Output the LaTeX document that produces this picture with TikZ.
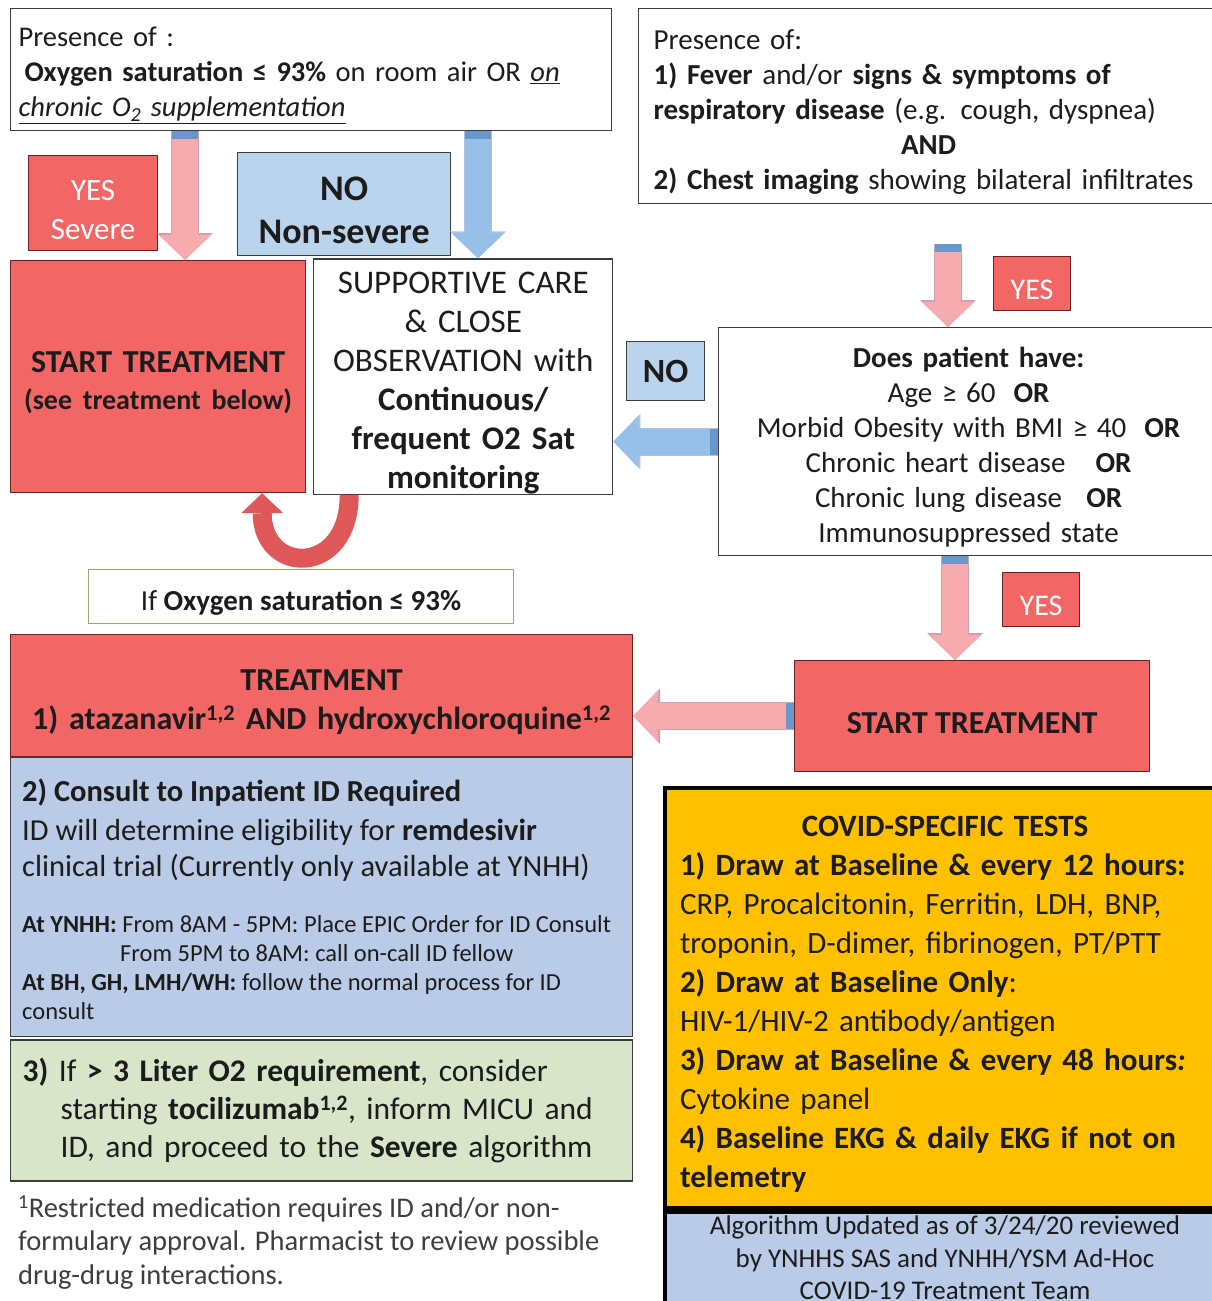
\documentclass[tikz,border=0pt]{standalone}
\usepackage{fontspec}
\setmainfont{Carlito}
\usetikzlibrary{arrows.meta, positioning}

\definecolor{ink}{RGB}{28,28,28}
\definecolor{frame}{RGB}{60,60,60}
\definecolor{redfill}{RGB}{242,102,102}
\definecolor{redline}{RGB}{110,35,35}
\definecolor{nofill}{RGB}{187,212,237}
\definecolor{consultfill}{RGB}{185,203,230}
\definecolor{greenfill}{RGB}{216,229,201}
\definecolor{greenline}{RGB}{150,170,110}
\definecolor{goldfill}{RGB}{255,192,0}
\definecolor{arrpink}{RGB}{246,172,174}
\definecolor{pinkedge}{RGB}{205,160,178}
\definecolor{arrblue}{RGB}{150,192,232}
\definecolor{blueedge}{RGB}{170,195,225}
\definecolor{capblue}{RGB}{105,150,205}
\definecolor{uturn}{RGB}{222,88,90}

\newcommand{\fsz}[2]{\fontsize{#1}{#2}\selectfont}

\begin{document}
\begin{tikzpicture}[
    x = 1pt, y = -1pt, % one unit is one pixel, y runs down the page
    > = {Triangle[length=25pt, width=52pt, line width=0pt]}, % block arrow head
    flowbox/.style = {draw=frame, line width=1.2pt, anchor=north west,
      inner xsep=8pt, inner ysep=0pt, text=ink, align=center},
    lifted/.style = {execute at begin node={\rule{0pt}{\dimexpr0.75em+10pt\relax}}},
    redbox/.style = {flowbox, lifted, fill=redfill, draw=redline},
    nobox/.style = {flowbox, fill=nofill},
    yesbox/.style = {redbox, text=white, font=\fsz{30}{39},
      minimum width=77, minimum height=54},
    edged/.style = {preaction={draw=#1, line width=28pt,
      -{Triangle[length=27pt, width=56pt, line width=0pt]}}},
    pinkarrow/.style = {->, line width=26pt, draw=arrpink, edged=pinkedge},
    bluearrow/.style = {->, line width=26pt, draw=arrblue, edged=blueedge},
    bluecap/.style = {line width=26pt, draw=capblue},
    uturnarrow/.style = {-{Triangle[length=20pt, width=42pt, line width=0pt]},
      line width=19pt, draw=uturn},
  ]
  \useasboundingbox (0,0) rectangle (1211,1301);

  % left question: oxygen saturation
  \node[flowbox, lifted, minimum width=601, minimum height=122, text width=585,
    align=left, font=\fsz{28.5}{35}] (sat) at (10,8)
    {Presence of :\\
     \hspace*{6pt}\textbf{Oxygen saturation ≤ 93\%} on room air OR \underline{\textit{on}}\\
     \underline{\textit{chronic O\textsubscript{2} supplementation}}};

  % right question: symptoms and imaging
  \node[flowbox, lifted, minimum width=580, minimum height=195, text width=550,
    inner xsep=15pt, align=left, font=\fsz{29}{35}] (fever) at (638,8)
    {Presence of:\\
     \textbf{1) Fever} and/or \textbf{signs \& symptoms of}\\
     \textbf{respiratory disease} (e.g. cough, dyspnea)\\
     \makebox[550pt]{\textbf{AND}}\\
     \textbf{2) Chest imaging} showing bilateral infiltrates};

  \node[yesbox, minimum width=129, minimum height=95, text width=113,
    font=\fsz{31}{39}] (yessev) at (28,155) {YES\\Severe};
  \node[nobox, lifted, minimum width=213, minimum height=103, text width=197,
    font=\bfseries\fsz{36}{43}] (nonsev) at (237,152) {NO\\Non-severe};

  \node[redbox, minimum width=295, minimum height=232, text width=279,
    font=\bfseries\fsz{32}{37}] (severe) at (10,260)
    {START TREATMENT\\{\fsz{28}{37}(see treatment below)}};
  \node[flowbox, lifted, minimum width=299, minimum height=232, text width=283,
    font=\fsz{33}{39}, right=7pt of severe] (support)
    {SUPPORTIVE CARE\\\& CLOSE\\OBSERVATION with\\\textbf{Continuous/}\\
     \textbf{frequent O2 Sat}\\\textbf{monitoring}};

  \node[flowbox, lifted, draw=greenline, minimum width=425, minimum height=54,
    font=\fsz{29}{34}] (ifsat) at (88,569) {If \textbf{Oxygen saturation ≤ 93\%}};

  % risk factors
  \node[yesbox] (yes1) at (993,256) {YES};
  \node[flowbox, lifted, minimum width=500, minimum height=228, text width=484,
    font=\fsz{29}{35}] (risk) at (718,327)
    {\textbf{Does patient have:}\\
     Age ≥ 60\hspace{18pt}\textbf{OR}\\
     Morbid Obesity with BMI ≥ 40\hspace{18pt}\textbf{OR}\\
     Chronic heart disease\hspace{30pt}\textbf{OR}\\
     Chronic lung disease\hspace{24pt}\textbf{OR}\\
     Immunosuppressed state};
  \node[nobox, minimum width=78, minimum height=59, font=\bfseries\fsz{34}{40}] (norisk) at (626,341) {NO};
  \node[yesbox] (yes2) at (1002,572) {YES};
  \node[redbox, minimum width=355, minimum height=111, font=\bfseries\fsz{32}{39}] (starttr) at (794,660) {START TREATMENT};

  % treatment column
  \node[redbox, minimum width=622, minimum height=122, text width=606,
    font=\bfseries\fsz{32}{39}] (treat) at (10,634)
    {TREATMENT\\1) atazanavir\textsuperscript{1,2} AND hydroxychloroquine\textsuperscript{1,2}};
  \node[flowbox, fill=consultfill, minimum width=622, minimum height=279,
    below=0pt of treat] (consult) {};
  \node[anchor=north west, inner sep=0pt, text=ink, font=\bfseries\fsz{30.5}{37}] (consulthead)
    at ([shift={(12,21)}]consult.north west) {2) Consult to Inpatient ID Required};
  \node[anchor=north west, inner sep=0pt, text=ink, align=left, font=\fsz{30.5}{36}] (consulttxt)
    at ([shift={(12,62)}]consult.north west)
    {ID will determine eligibility for \textbf{remdesivir}\\
     clinical trial (Currently only available at YNHH)};
  \node[anchor=north west, inner sep=0pt, text=ink, align=left, font=\fsz{24.5}{29}] (consultwhere)
    at ([shift={(12,158)}]consult.north west)
    {\textbf{At YNHH:} From 8AM - 5PM: Place EPIC Order for ID Consult\\
     \hspace*{98pt}From 5PM to 8AM: call on-call ID fellow\\
     \textbf{At BH, GH, LMH/WH:} follow the normal process for ID\\
     consult};
  \node[flowbox, fill=greenfill, minimum width=622, minimum height=141, text width=598,
    inner xsep=12pt, align=left, font=\fsz{31.5}{38}, below=2pt of consult] (o2req)
    {\textbf{3)} If \textbf{> 3 Liter O2 requirement}, consider\\
     \hspace*{38pt}starting \textbf{tocilizumab\textsuperscript{1,2}}, inform MICU and\\
     \hspace*{38pt}ID, and proceed to the \textbf{Severe} algorithm};
  \node[anchor=north west, inner sep=0pt, text=ink!85, align=left, font=\fsz{28.5}{33.5}] (notes)
    at (18,1195)
    {\textsuperscript{1}Restricted medication requires ID and/or non-\\
     formulary approval. Pharmacist to review possible\\
     drug-drug interactions.};

  % tests
  \node[flowbox, lifted, draw=black, line width=4pt, fill=goldfill, minimum width=560,
    minimum height=420, text width=530, inner xsep=15pt, align=left,
    font=\fsz{31}{39}] (tests) at (663,786)
    {\makebox[530pt]{\textbf{COVID-SPECIFIC TESTS}}\\
     \textbf{1) Draw at Baseline \& every 12 hours:}\\
     CRP, Procalcitonin, Ferritin, LDH, BNP,\\
     troponin, D-dimer, fibrinogen, PT/PTT\\
     \textbf{2) Draw at Baseline Only}:\\
     HIV-1/HIV-2 antibody/antigen\\
     \textbf{3) Draw at Baseline \& every 48 hours\textit{:}}\\
     Cytokine panel\\
     \textbf{4) Baseline EKG \& daily EKG if not on}\\
     \textbf{telemetry}};
  \node[flowbox, draw=black, line width=4pt, fill=consultfill, minimum width=560,
    minimum height=100, below=0pt of tests] (team) {};
  \node[anchor=north, inner sep=0pt, text=ink, align=center, font=\fsz{27}{32.5}] (teamtxt)
    at ([shift={(0,6)}]team.north)
    {Algorithm Updated as of 3/24/20 reviewed\\
     by YNHHS SAS and YNHH/YSM Ad-Hoc\\
     COVID-19 Treatment Team};

  % block arrows
  \coordinate (sevtop) at ([xshift=175pt]sat.south west);
  \coordinate (nontop) at ([xshift=468pt]sat.south west);
  \coordinate (fevtop) at ([xshift=310pt, yshift=-40pt]fever.south west);
  \coordinate (risktop) at ([xshift=237pt]risk.south west);
  \draw[pinkarrow] (sevtop) -- (sevtop |- severe.north);
  \draw[bluecap] (sevtop) -- ++(0,8);
  \draw[bluearrow] (nontop) -- (nontop |- support.north);
  \draw[bluecap] (nontop) -- ++(0,8);
  \draw[pinkarrow] (fevtop) -- (fevtop |- risk.north);
  \draw[bluecap] (fevtop) -- ++(0,8);
  \draw[bluearrow] (risk.west) -- (risk.west -| support.east);
  \draw[bluecap] (risk.west) -- ++(-8,0);
  \draw[pinkarrow] (risktop) -- (risktop |- starttr.north);
  \draw[bluecap] (risktop) -- ++(0,8);
  \draw[pinkarrow] (starttr.west) -- (starttr.west -| treat.east);
  \draw[bluecap] (starttr.west) -- ++(-8,0);
  \draw[uturnarrow] ([xshift=36pt]support.south west) .. controls +(0,82) and +(0,82) .. ([xshift=-44pt]severe.south east);
\end{tikzpicture}
\end{document}
